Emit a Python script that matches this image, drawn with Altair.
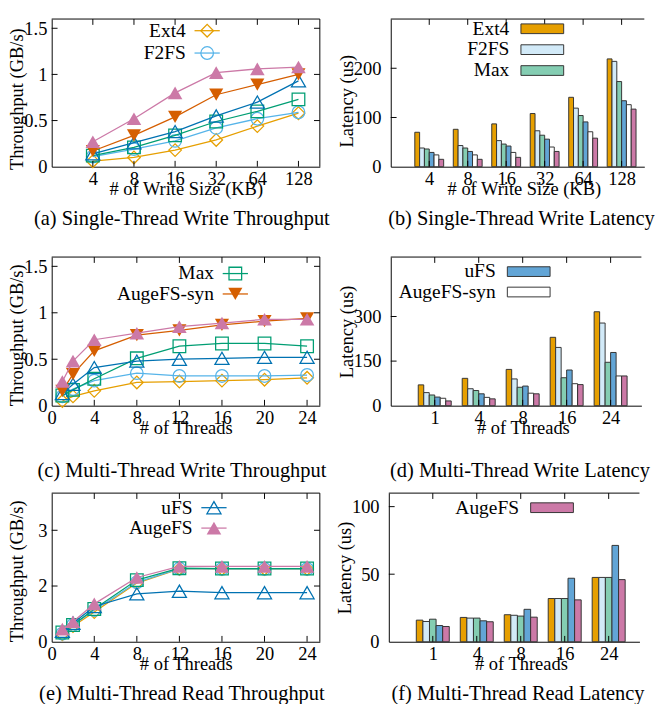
import json
import altair as alt
import pandas as pd

FONT = "Liberation Serif"

# ---------------- series definitions ----------------
SERIES = ["Ext4", "F2FS", "Max", "uFS", "AugeFS-syn", "AugeFS"]
LINE_COLORS = ["#e69f00", "#56b4e9", "#009e73", "#0072b2", "#d55e00", "#cc79a7"]
BAR_FILLS = ["#e69f00", "#d2eaf8", "#84cdb2", "#62a5d6", "#ffffff", "#cc79a7"]
SHAPES = ["diamond", "circle", "square", "triangle-up", "triangle-down", "triangle-up"]
FILLED = [False, False, False, False, True, True]
SIZES = [169, 169, 169, 210, 210, 225]

# ---------------- (a) single-thread write throughput (GB/s) ----------------
write_sizes = ["4", "8", "16", "32", "64", "128"]
a_ext4 = [0.06, 0.10, 0.18, 0.29, 0.44, 0.58]
a_f2fs = [0.11, 0.19, 0.28, 0.42, 0.52, 0.59]
a_max = [0.12, 0.21, 0.34, 0.49, 0.60, 0.73]
a_ufs = [0.14, 0.26, 0.38, 0.55, 0.70, 0.93]
a_syn = [0.17, 0.34, 0.54, 0.78, 0.89, 1.00]
a_auge = [0.27, 0.52, 0.80, 1.02, 1.06, 1.08]

# ---------------- (b) single-thread write latency (us) ----------------
b_ext4 = [70, 76, 87, 108, 141, 219]
b_f2fs = [38, 43, 53, 73, 119, 214]
b_max = [36, 38, 46, 64, 104, 173]
b_ufs = [29, 31, 42, 56, 91, 134]
b_syn = [24, 24, 29, 40, 71, 126]
b_auge = [15, 15, 19, 31, 58, 117]

# ---------------- (c) multi-thread write throughput (GB/s) ----------------
threads = [1, 2, 4, 8, 12, 16, 20, 24]
c_ext4 = [0.05, 0.10, 0.16, 0.25, 0.26, 0.27, 0.28, 0.30]
c_f2fs = [0.10, 0.18, 0.27, 0.35, 0.32, 0.32, 0.32, 0.33]
c_max = [0.11, 0.17, 0.29, 0.51, 0.64, 0.67, 0.67, 0.64]
c_ufs = [0.13, 0.23, 0.41, 0.48, 0.50, 0.51, 0.52, 0.52]
c_syn = [0.16, 0.34, 0.59, 0.76, 0.81, 0.87, 0.91, 0.94]
c_auge = [0.26, 0.48, 0.71, 0.78, 0.85, 0.89, 0.93, 0.93]

# ---------------- (d) multi-thread write latency (us) ----------------
thread_groups = ["1", "4", "8", "16", "24"]
d_ext4 = [70, 92, 122, 230, 316]
d_f2fs = [44, 57, 90, 196, 278]
d_max = [36, 51, 62, 94, 146]
d_ufs = [29, 40, 66, 120, 179]
d_syn = [25, 28, 42, 74, 100]
d_auge = [16, 23, 40, 71, 100]

# ---------------- (e) multi-thread read throughput (GB/s) ----------------
e_ext4 = [0.20, 0.42, 0.80, 1.58, 1.96, 1.96, 1.96, 1.96]
e_f2fs = [0.22, 0.45, 0.85, 1.60, 1.97, 1.96, 1.96, 1.96]
e_max = [0.25, 0.45, 0.88, 1.66, 1.98, 1.97, 1.97, 1.97]
e_ufs = [0.28, 0.50, 0.95, 1.29, 1.36, 1.32, 1.32, 1.32]
e_auge = [0.34, 0.54, 1.02, 1.73, 2.03, 2.03, 2.03, 2.03]

# ---------------- (f) multi-thread read latency (us) ----------------
f_ext4 = [16, 18, 20, 32, 47.6]
f_f2fs = [15, 17.5, 19.6, 32, 47.6]
f_max = [16.7, 17.5, 19, 32, 47.6]
f_ufs = [12, 15.5, 24, 47, 71.3]
f_auge = [11.3, 14.8, 18.2, 31, 46]

ONE = pd.DataFrame({"k": [0]})


def axis(**kw):
    d = dict(labelFont=FONT, titleFont=FONT, labelFontSize=19, titleFontSize=19,
             labelColor="black", titleColor="black", titleFontWeight="normal",
             domainColor="black", domainWidth=1, ticks=False, grid=False,
             labelFlush=False, labelOverlap=False)
    d.update(kw)
    return alt.Axis(**d)


def frame(W, H, xs, ys, xt, yt, right=True):
    L = [alt.Chart(ONE).mark_rule(color="black", strokeWidth=1).encode(
        x=alt.value(0), x2=alt.value(W), y=alt.value(0))]
    if right:
        L.append(alt.Chart(ONE).mark_rule(color="black", strokeWidth=1).encode(
            x=alt.value(W), y=alt.value(0), y2=alt.value(H)))
    ydf = pd.DataFrame({"tv": yt})
    L.append(alt.Chart(ydf).mark_rule(color="black", strokeWidth=1).encode(
        y=alt.Y("tv:Q", scale=ys), x=alt.value(0), x2=alt.value(6)))
    if right:
        L.append(alt.Chart(ydf).mark_rule(color="black", strokeWidth=1).encode(
            y=alt.Y("tv:Q", scale=ys), x=alt.value(W - 6), x2=alt.value(W)))
    xdf = pd.DataFrame({"tv": xt})
    L.append(alt.Chart(xdf).mark_rule(color="black", strokeWidth=1).encode(
        x=alt.X("tv:Q", scale=xs), y=alt.value(H - 6), y2=alt.value(H)))
    L.append(alt.Chart(xdf).mark_rule(color="black", strokeWidth=1).encode(
        x=alt.X("tv:Q", scale=xs), y=alt.value(0), y2=alt.value(6)))
    return L


def legend_text(label, tx, ty):
    return alt.Chart(ONE).mark_text(text=label, align="right", baseline="middle", font=FONT,
                                    fontSize=20, color="black").encode(
        x=alt.value(tx), y=alt.value(ty))


def line_legend(i, tx, ty):
    c = LINE_COLORS[i]
    return [legend_text(SERIES[i], tx, ty),
            alt.Chart(ONE).mark_rule(color=c, strokeWidth=1.3).encode(
                x=alt.value(tx + 9), x2=alt.value(tx + 35), y=alt.value(ty)),
            alt.Chart(ONE).mark_point(shape=SHAPES[i], filled=FILLED[i], color=c, size=SIZES[i],
                                      strokeWidth=1.3, opacity=1).encode(
                x=alt.value(tx + 22), y=alt.value(ty))]


def bar_legend(i, tx, ty):
    return [legend_text(SERIES[i], tx, ty),
            alt.Chart(ONE).mark_rect(fill=BAR_FILLS[i], stroke="#333333", strokeWidth=1).encode(
                x=alt.value(tx + 12), x2=alt.value(tx + 56), y=alt.value(ty - 5), y2=alt.value(ty + 5))]


def caption(text, offset, dx):
    return alt.TitleParams(text=text, orient="bottom", anchor="middle", font=FONT, fontSize=21,
                           fontWeight="normal", color="black", offset=offset, dx=dx)


def line_panel(xv, series, idx, xs, ys, xaxis, yaxis, xt, yt, W, H, leg, cap):
    layers = []
    first = True
    for i, vals in zip(idx, series):
        d = pd.DataFrame({"x": xv, "y": vals})
        c = LINE_COLORS[i]
        if first:
            ex = alt.X("x:Q", scale=xs, axis=xaxis)
            ey = alt.Y("y:Q", scale=ys, axis=yaxis)
        else:
            ex = alt.X("x:Q", scale=xs)
            ey = alt.Y("y:Q", scale=ys)
        first = False
        layers.append(alt.Chart(d).mark_line(color=c, strokeWidth=1.3).encode(x=ex, y=ey))
        layers.append(alt.Chart(d).mark_point(shape=SHAPES[i], filled=FILLED[i], color=c,
                                              size=SIZES[i], strokeWidth=1.3, opacity=1).encode(
            x=alt.X("x:Q", scale=xs), y=alt.Y("y:Q", scale=ys)))
    layers += frame(W, H, xs, ys, xt, yt, right=True)
    tx, ty0, step, entries = leg
    for k, i in enumerate(entries):
        layers += line_legend(i, tx, ty0 + step * k)
    return alt.layer(*layers).properties(width=W, height=H, title=cap)


def bar_panel(groups, series, idx, xs, ys, xaxis, yaxis, yt, W, H, leg, cap):
    n = len(idx)
    bw = 0.75 / n
    rows = []
    for si, (i, vals) in enumerate(zip(idx, series)):
        for gi, v in enumerate(vals):
            x0 = (gi + 1) - 0.375 + si * bw
            rows.append({"series": SERIES[i], "x": x0, "x2": x0 + bw, "y": v, "y0": 0})
    df = pd.DataFrame(rows)
    names = [SERIES[i] for i in idx]
    fills = [BAR_FILLS[i] for i in idx]
    layers = [alt.Chart(df).mark_rect(stroke="#333333", strokeWidth=1).encode(
        x=alt.X("x:Q", scale=xs, axis=xaxis), x2="x2:Q",
        y=alt.Y("y:Q", scale=ys, axis=yaxis), y2="y0:Q",
        fill=alt.Fill("series:N", scale=alt.Scale(domain=names, range=fills), legend=None))]
    layers += frame(W, H, xs, ys, list(range(1, len(groups) + 1)), yt, right=False)
    tx, ty0, step, entries = leg
    for k, i in enumerate(entries):
        layers += bar_legend(i, tx, ty0 + step * k)
    return alt.layer(*layers).properties(width=W, height=H, title=cap)


def idx_labels(labels):
    return json.dumps([""] + labels) + "[datum.value]"


# ---------------- geometry ----------------
WL = 276
WB = 261
WD = 258
H1, H2, H3 = 152, 153, 153

# (a)
xs_a = alt.Scale(domain=[0, 6.52], nice=False, zero=False)
ys_a = alt.Scale(domain=[0, 1.6], nice=False)
pa = line_panel(
    list(range(1, 7)), [a_ext4, a_f2fs, a_max, a_ufs, a_syn, a_auge], [0, 1, 2, 3, 4, 5],
    xs_a, ys_a,
    axis(values=list(range(1, 7)), labelExpr=idx_labels(write_sizes), labelPadding=3,
         title="# of Write Size (KB)", titleY=23, titleBaseline="middle"),
    axis(values=[0, 0.5, 1, 1.5], format="~g", labelPadding=5, title="Throughput (GB/s)",
         titleX=-36, titleY=82, titleBaseline="middle", titleAlign="center"),
    list(range(1, 7)), [0.5, 1, 1.5], WL, H1, (138, 12, 23, [0, 1]),
    caption("(a) Single-Thread Write Throughput", 10, -4))

# (b)
xs_b = alt.Scale(domain=[0, 6.59], nice=False, zero=False)
ys_b = alt.Scale(domain=[0, 300], nice=False)
pb = bar_panel(
    write_sizes, [b_ext4, b_f2fs, b_max, b_ufs, b_syn, b_auge], [0, 1, 2, 3, 4, 5],
    xs_b, ys_b,
    axis(values=list(range(1, 7)), labelExpr=idx_labels(write_sizes), labelPadding=3,
         title="# of Write Size (KB)", titleY=23, titleX=137, titleBaseline="middle"),
    axis(values=[0, 100, 200], labelPadding=10, title="Latency (us)",
         titleX=-45, titleY=84, titleBaseline="middle", titleAlign="center"),
    [100, 200], WB, H1, (122, 10, 21.5, [0, 1, 2]),
    caption("(b) Single-Thread Write Latency", 10, 4))

# (c)
xs_c = alt.Scale(domain=[0, 25.2], nice=False, zero=False)
ys_c = alt.Scale(domain=[0, 1.6], nice=False)
pc = line_panel(
    threads, [c_ext4, c_f2fs, c_max, c_ufs, c_syn, c_auge], [0, 1, 2, 3, 4, 5],
    xs_c, ys_c,
    axis(values=[0, 4, 8, 12, 16, 20, 24], labelPadding=3,
         title="# of Threads", titleY=23, titleBaseline="middle"),
    axis(values=[0, 0.5, 1, 1.5], format="~g", labelPadding=5, title="Throughput (GB/s)",
         titleX=-36, titleY=80, titleBaseline="middle", titleAlign="center"),
    [4, 8, 12, 16, 20, 24], [0.5, 1, 1.5], WL, H2, (167, 17, 21, [2, 4]),
    caption("(c) Multi-Thread Write Throughput", 23, -4))

# (d)
xs_d = alt.Scale(domain=[0, 5.70], nice=False, zero=False)
ys_d = alt.Scale(domain=[0, 500], nice=False)
pd_ = bar_panel(
    thread_groups, [d_ext4, d_f2fs, d_max, d_ufs, d_syn, d_auge], [0, 1, 2, 3, 4, 5],
    xs_d, ys_d,
    axis(values=list(range(1, 6)), labelExpr=idx_labels(thread_groups), labelPadding=3,
         title="# of Threads", titleY=23, titleX=136, titleBaseline="middle"),
    axis(values=[0, 150, 300], labelPadding=10, title="Latency (us)",
         titleX=-45, titleBaseline="middle", titleAlign="center"),
    [150, 300], WD, H2, (108, 15, 21, [3, 4]),
    caption("(d) Multi-Thread Write Latency", 23, 4))

# (e)
xs_e = alt.Scale(domain=[0, 25.2], nice=False, zero=False)
ys_e = alt.Scale(domain=[0, 4], nice=False)
pe = line_panel(
    threads, [e_ext4, e_f2fs, e_max, e_ufs, e_auge], [0, 1, 2, 3, 5],
    xs_e, ys_e,
    axis(values=[0, 4, 8, 12, 16, 20, 24], labelPadding=3,
         title="# of Threads", titleY=23, titleBaseline="middle"),
    axis(values=[0, 1.5, 3], format="~g", labelPadding=5, title="Throughput (GB/s)",
         titleX=-36, titleY=80, titleBaseline="middle", titleAlign="center"),
    [4, 8, 12, 16, 20, 24], [1.5, 3], WL, H3, (145, 15, 21, [3, 5]),
    caption("(e) Multi-Thread Read Throughput", 10, -4))

# (f)
xs_f = alt.Scale(domain=[0, 5.70], nice=False, zero=False)
ys_f = alt.Scale(domain=[0, 110], nice=False)
pf = bar_panel(
    thread_groups, [f_ext4, f_f2fs, f_max, f_ufs, f_auge], [0, 1, 2, 3, 5],
    xs_f, ys_f,
    axis(values=list(range(1, 6)), labelExpr=idx_labels(thread_groups), labelPadding=3,
         title="# of Threads", titleY=23, titleX=136, titleBaseline="middle"),
    axis(values=[0, 50, 100], labelPadding=10, title="Latency (us)",
         titleX=-45, titleBaseline="middle", titleAlign="center"),
    [50, 100], WD, H3, (134, 15, 21, [5]),
    caption("(f) Multi-Thread Read Latency", 10, 4))

row1 = alt.hconcat(pa, pb, spacing=8)
row2 = alt.hconcat(pc, pd_, spacing=11)
row3 = alt.hconcat(pe, pf, spacing=11)

chart = alt.vconcat(alt.vconcat(row1, row2, spacing=28), row3, spacing=12).properties(
    padding=0
).configure(font=FONT).configure_view(strokeWidth=0)

chart.save("out.html", embed_options={"renderer": "svg", "actions": False})
